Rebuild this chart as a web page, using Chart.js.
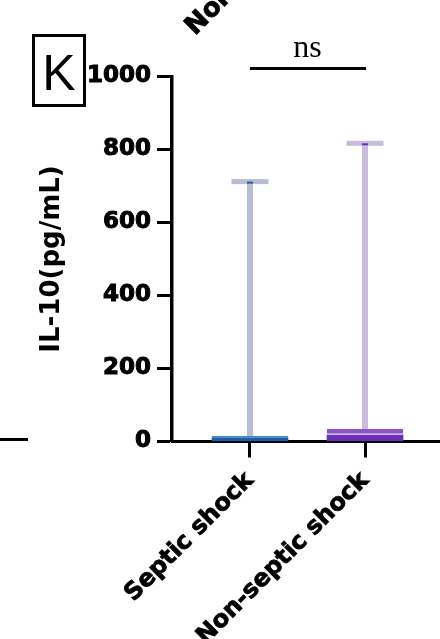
<!DOCTYPE html>
<html>
<head>
<meta charset="utf-8">
<script src="https://cdn.jsdelivr.net/npm/chart.js@4.4.0/dist/chart.umd.min.js"></script>
<style>
  html, body { margin: 0; padding: 0; background: #fff; }
  #wrap { width: 440px; height: 639px; }
</style>
</head>
<body>
<div id="wrap"><canvas id="il10Chart" width="440" height="639"></canvas></div>
<script>
// data
const categories = ["Septic shock", "Non-septic shock"];
const boxTop = [15, 34];       // top of coloured bar
const midLine = [11, 18];      // lighter line inside the bar
const maxVal = [712, 817];     // whisker ends
const yTicks = [0, 200, 400, 600, 800, 1000];

const darkFill = ["#1f5fa8", "#6a2fb2"];
const lightFill = ["#3f84cc", "#8b55c9"];
const lineFill = ["#4f90d6", "#c9b0ee"];
const whiskerCol = ["#b8bdd2", "#c7bddb"];

const FONT = "'DejaVu Sans', sans-serif";

const whiskers = {
    id: "whiskers",
    beforeDatasetsDraw(chart) {
        const { ctx, scales: { x, y } } = chart;
        ctx.save();
        categories.forEach((c, i) => {
            const px = x.getPixelForValue(i);
            const top = y.getPixelForValue(maxVal[i]);
            const bot = y.getPixelForValue(boxTop[i]);
            ctx.fillStyle = whiskerCol[i];
            ctx.fillRect(px - 3, top, 6, bot - top);
            ctx.fillRect(px - 18.5, top - 2.5, 37, 5);
            ctx.fillStyle = darkFill[i];
            ctx.fillRect(px - 3, top, 6, 2);
        });
        ctx.restore();
    },
    afterDraw(chart) {
        const { ctx, scales: { x, y } } = chart;
        ctx.save();
        ctx.fillStyle = "#000";
        ctx.strokeStyle = "#000";
        // significance bar
        const ly = y.getPixelForValue(1000) - 8;
        ctx.lineWidth = 3;
        ctx.beginPath();
        ctx.moveTo(x.getPixelForValue(0), ly);
        ctx.lineTo(x.getPixelForValue(1) + 1, ly);
        ctx.stroke();
        ctx.font = "32px 'Liberation Serif', serif";
        ctx.textAlign = "center";
        ctx.textBaseline = "alphabetic";
        ctx.fillText("ns", (x.getPixelForValue(0) + x.getPixelForValue(1)) / 2, ly - 12);
        // panel letter
        ctx.lineWidth = 3;
        ctx.strokeRect(33.5, 35.5, 51, 70);
        ctx.font = "50px 'Liberation Sans', Arial, sans-serif";
        ctx.fillText("K", 59, 90);
        // bits of the neighbouring panels
        ctx.fillRect(0, 438, 28, 3);
        ctx.translate(195, 36);
        ctx.rotate(-Math.PI / 4);
        ctx.font = "bold 26px " + FONT;
        ctx.textAlign = "left";
        ctx.lineWidth = 0.8;
        ctx.fillText("Non-septic shock", 0, 0);
        ctx.strokeText("Non-septic shock", 0, 0);
        ctx.restore();
    }
};

const ctx = document.getElementById("il10Chart").getContext("2d");
new Chart(ctx, {
    type: "bar",
    data: {
        datasets: [
            {
                data: categories.map((c, i) => ({ x: i, y: midLine[i] })),
                backgroundColor: darkFill,
                barThickness: 76,
                grouped: false,
                order: 2,
            },
            {
                data: categories.map((c, i) => ({ x: i, y: [midLine[i], boxTop[i]] })),
                backgroundColor: lightFill,
                borderColor: lineFill,
                borderWidth: { top: 0, left: 0, right: 0, bottom: 2 },
                borderSkipped: false,
                barThickness: 76,
                grouped: false,
                order: 1,
            },
        ],
    },
    options: {
        responsive: false,
        animation: false,
        layout: { padding: { top: 76.5, left: 0, right: 0, bottom: 0 } },
        plugins: { legend: { display: false }, tooltip: { enabled: false } },
        scales: {
            x: {
                type: "linear",
                offset: false,
                min: -0.678,
                max: 1.652,
                afterBuildTicks: (s) => { s.ticks = [{ value: 0 }, { value: 1 }]; },
                afterFit: (s) => { s.height = 197.5; },
                ticks: {
                    minRotation: 45,
                    maxRotation: 45,
                    color: "#000",
                    padding: 9,
                    textStrokeColor: "#000",
                    textStrokeWidth: 0.8,
                    font: { family: FONT, weight: "bold", size: 24 },
                    callback: (v) => categories[v] ?? "",
                },
                grid: { offset: false, drawOnChartArea: false, tickLength: 16, tickWidth: 3, color: "#000" },
                border: { display: true, width: 3, color: "#000" },
            },
            y: {
                min: 0,
                max: 1000,
                afterBuildTicks: (s) => { s.ticks = yTicks.map((v) => ({ value: v })); },
                afterFit: (s) => { s.width = 172; },
                ticks: {
                    color: "#000",
                    padding: 6,
                    textStrokeColor: "#000",
                    textStrokeWidth: 1,
                    font: { family: FONT, weight: "bold", size: 23 },
                    callback: (v) => String(v),
                },
                grid: { drawOnChartArea: false, tickLength: 15, tickWidth: 3, color: "#000" },
                border: { display: true, width: 3.5, color: "#000" },
                title: {
                    display: true,
                    text: "IL-10(pg/mL)",
                    color: "#000",
                    padding: { top: 37, bottom: 0 },
                    font: { family: FONT, weight: "bold", size: 26 },
                },
            },
        },
    },
    plugins: [whiskers],
});
</script>
</body>
</html>
